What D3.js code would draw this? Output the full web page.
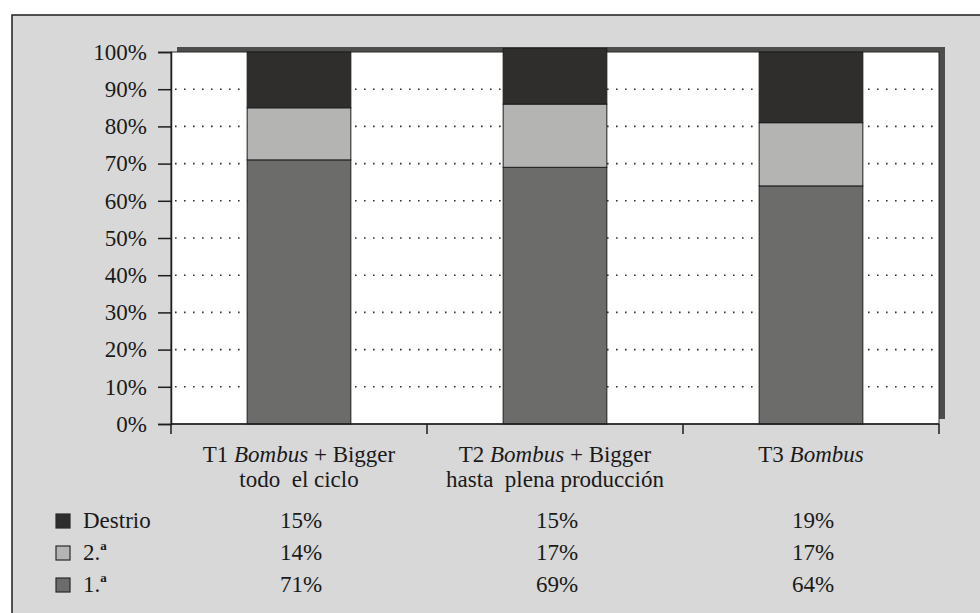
<!DOCTYPE html>
<html>
<head>
<meta charset="utf-8">
<script src="https://cdn.jsdelivr.net/npm/d3@7"></script>
<style>
  body { margin: 0; background: #ffffff; }
  text { font-family: "Liberation Serif", "Times New Roman", serif; fill: #1a1a1a; }
</style>
</head>
<body>
<div id="chart"></div>
<script>
// data
var treatments = ["T1", "T2", "T3"];
var labelLine1 = [
  [["T1 ", false], ["Bombus", true], [" + Bigger", false]],
  [["T2 ", false], ["Bombus", true], [" + Bigger", false]],
  [["T3 ", false], ["Bombus", true]]
];
var labelLine2 = ["todo  el ciclo", "hasta  plena producción", ""];
var series = ["1.a", "2.a", "Destrio"];
var primera = [71, 69, 64];
var segunda = [14, 17, 17];
var destrio = [15, 15, 19];
var yTicks = [0, 10, 20, 30, 40, 50, 60, 70, 80, 90, 100];

var width = 980, height = 613;
var plotLeft = 171, plotRight = 939, plotTop = 52, plotBottom = 424;

var svg = d3.select("#chart")
  .append("svg")
  .attr("width", width)
  .attr("height", height);

// grey card with black border (runs off the right/bottom edge)
svg.append("rect")
  .attr("x", 12).attr("y", 15)
  .attr("width", 990).attr("height", 620)
  .attr("fill", "#d7d8d7")
  .attr("stroke", "#1e1e1e")
  .attr("stroke-width", 1.5);

var x = d3.scaleBand()
  .domain(treatments)
  .range([plotLeft, plotRight])
  .paddingInner(0.595)
  .paddingOuter(0.2975);

var y = d3.scaleLinear()
  .domain([0, 100])
  .range([plotBottom, plotTop]);

var color = d3.scaleOrdinal()
  .domain(series)
  .range(["#6c6c6b", "#b4b4b3", "#2f2e2c"]);

// shadow of plot area, then the white plot
svg.append("rect")
  .attr("x", plotLeft + 6).attr("y", plotTop - 5)
  .attr("width", plotRight - plotLeft).attr("height", plotBottom - plotTop)
  .attr("fill", "#4d4d4b");

svg.append("rect")
  .attr("x", plotLeft).attr("y", plotTop)
  .attr("width", plotRight - plotLeft).attr("height", plotBottom - plotTop)
  .attr("fill", "#ffffff")
  .attr("stroke", "#2a2a2a")
  .attr("stroke-width", 1);

// dotted gridlines
svg.selectAll("grid")
  .data(yTicks.filter(function(d){ return d > 0 && d < 100; }))
  .enter()
  .append("line")
  .attr("x1", plotLeft + 4)
  .attr("x2", plotRight - 4)
  .attr("y1", function(d){ return y(d); })
  .attr("y2", function(d){ return y(d); })
  .attr("stroke", "#333")
  .attr("stroke-width", 1.6)
  .attr("stroke-dasharray", "1.6,7.4");

// stacked bars
var table = treatments.map(function(t, i){
  return {key: t, "1.a": primera[i], "2.a": segunda[i], "Destrio": destrio[i]};
});
var stacked = d3.stack().keys(series)(table);

svg.selectAll("layer")
  .data(stacked)
  .enter()
  .append("g")
  .attr("fill", function(d){ return color(d.key); })
  .selectAll("rect")
  .data(function(d){ return d; })
  .enter()
  .append("rect")
  .attr("x", function(d){ return x(d.data.key); })
  .attr("width", x.bandwidth())
  .attr("y", function(d){ return y(d[1]); })
  .attr("height", function(d){ return y(d[0]) - y(d[1]); })
  .attr("stroke", "#1e1e1e")
  .attr("stroke-width", 1);

// y axis
var yAxis = d3.axisLeft(y)
  .tickValues(yTicks)
  .tickFormat(function(d){ return d + "%"; })
  .tickSize(13)
  .tickPadding(11);

var gy = svg.append("g")
  .attr("transform", "translate(" + plotLeft + ",0)")
  .call(yAxis);
gy.select(".domain").attr("stroke", "#1e1e1e").attr("stroke-width", 1.5);
gy.selectAll(".tick line").attr("stroke", "#1e1e1e").attr("stroke-width", 1.5);
gy.selectAll(".tick text")
  .attr("font-family", "Liberation Serif")
  .attr("font-size", "23px")
  .attr("fill", "#1a1a1a");

// x axis: ticks sit between the categories
var boundaries = treatments.map(function(t){ return x(t) - x.step() * x.paddingInner() / 2; });
boundaries[0] = plotLeft;
boundaries.push(plotRight);

svg.append("line")
  .attr("x1", plotLeft).attr("x2", plotRight)
  .attr("y1", plotBottom).attr("y2", plotBottom)
  .attr("stroke", "#1e1e1e").attr("stroke-width", 1.5);

svg.selectAll("xtick")
  .data(boundaries)
  .enter()
  .append("line")
  .attr("x1", function(d){ return d; })
  .attr("x2", function(d){ return d; })
  .attr("y1", plotBottom)
  .attr("y2", plotBottom + 10)
  .attr("stroke", "#1e1e1e")
  .attr("stroke-width", 1.5);

// category labels (two lines, Bombus in italics)
var cx = function(i){ return x(treatments[i]) + x.bandwidth() / 2; };

labelLine1.forEach(function(parts, i){
  var t = svg.append("text")
    .attr("x", cx(i))
    .attr("y", 462)
    .attr("text-anchor", "middle")
    .attr("font-size", "23px")
    .style("white-space", "pre");
  parts.forEach(function(p){
    t.append("tspan")
      .attr("font-style", p[1] ? "italic" : "normal")
      .text(p[0]);
  });
});

svg.selectAll("line2")
  .data(labelLine2)
  .enter()
  .append("text")
  .attr("x", function(d, i){ return cx(i); })
  .attr("y", 487)
  .attr("text-anchor", "middle")
  .attr("font-size", "23px")
  .style("white-space", "pre")
  .text(function(d){ return d; });

// data table under the chart, top row is Destrio
var rows = [
  {key: "Destrio", label: "Destrio", values: destrio},
  {key: "2.a", label: "2.", values: segunda},
  {key: "1.a", label: "1.", values: primera}
];
var rowY = [528, 560, 592];

rows.forEach(function(r, j){
  svg.append("rect")
    .attr("x", 56).attr("y", rowY[j] - 14)
    .attr("width", 14).attr("height", 14)
    .attr("fill", color(r.key))
    .attr("stroke", "#2a2a2a")
    .attr("stroke-width", 1.2);

  var lab = svg.append("text")
    .attr("x", 83)
    .attr("y", rowY[j])
    .attr("font-size", "23px")
    .text(r.label);
  if (r.key !== "Destrio") {
    lab.append("tspan")
      .attr("dy", -10)
      .attr("font-size", "13px")
      .attr("font-weight", "bold")
      .text("a");
  }

  svg.selectAll("val" + j)
    .data(r.values)
    .enter()
    .append("text")
    .attr("x", function(d, i){ return cx(i) + 2; })
    .attr("y", rowY[j])
    .attr("text-anchor", "middle")
    .attr("font-size", "23px")
    .text(function(d){ return d + "%"; });
});
</script>
</body>
</html>
